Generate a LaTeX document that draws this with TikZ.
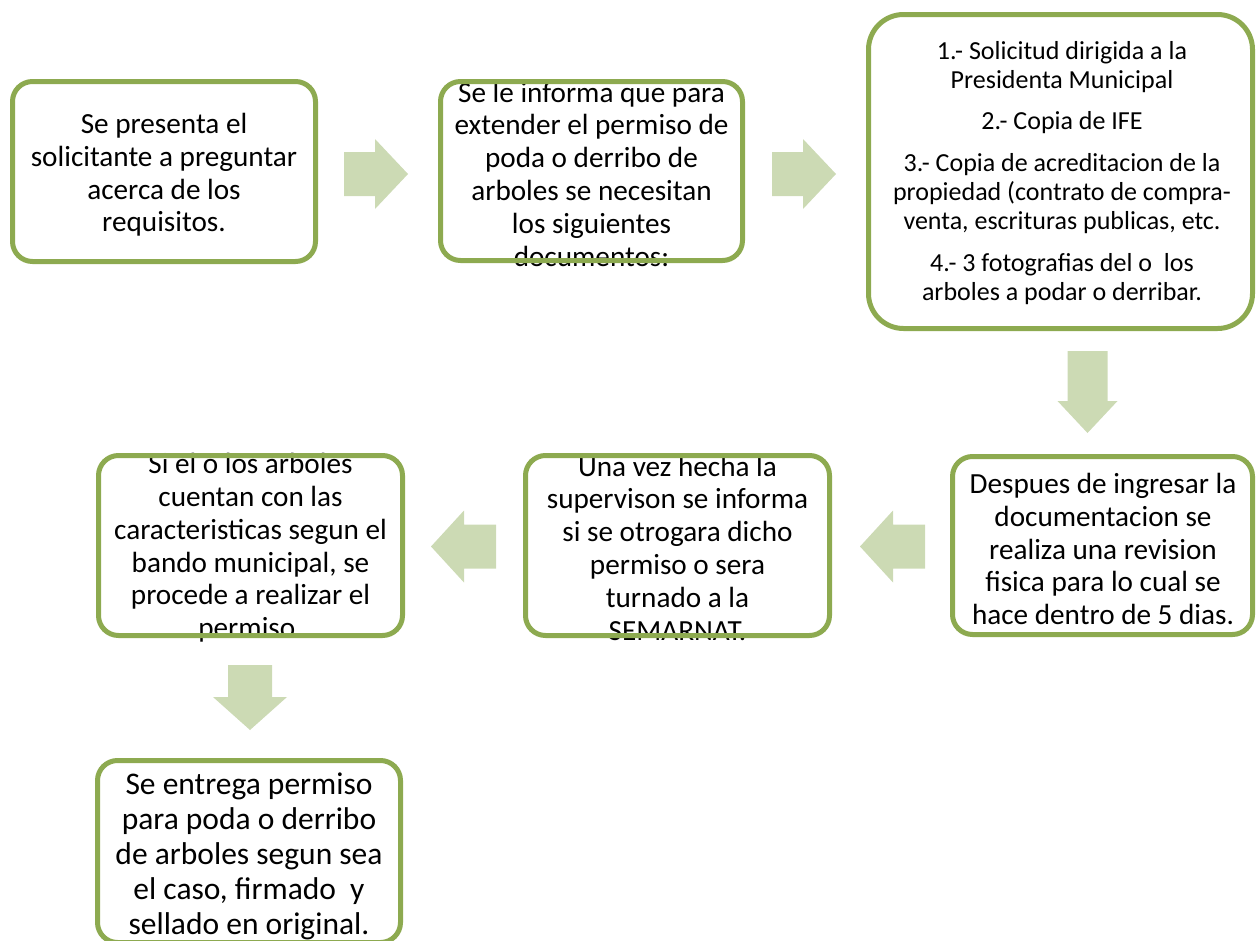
\documentclass[tikz,border=0pt]{standalone}
\usepackage{fontspec}
\setmainfont{Carlito}
\definecolor{bord}{RGB}{141,170,80}
\definecolor{arr}{RGB}{204,218,180}
\begin{document}
\begin{tikzpicture}[x=1pt,y=-1pt,
  box/.style={draw=bord, line width=5pt, rounded corners=20pt, inner sep=0pt},
  bigbox/.style={box, rounded corners=35pt},
  txt/.style={align=center, font=\fontsize{29.2}{32.8}\selectfont, inner sep=0pt},
  bigtxt/.style={align=center, font=\fontsize{31.5}{35}\selectfont, inner sep=0pt},
  smalltxt/.style={align=center, font=\fontsize{26}{29.3}\selectfont, inner sep=0pt},
  rarr/.pic={\fill[arr] (0,-22) -- (31,-22) -- (31,-35) -- (64,0) -- (31,35) -- (31,22) -- (0,22) -- cycle;},
  larr/.pic={\fill[arr] (0,-22) -- (-32,-22) -- (-32,-36) -- (-65,0) -- (-32,36) -- (-32,22) -- (0,22) -- cycle;},
  darrA/.pic={\fill[arr] (-20,0) -- (-20,50) -- (-30,50) -- (0,82) -- (30,50) -- (20,50) -- (20,0) -- cycle;},
  darrB/.pic={\fill[arr] (-22,0) -- (-22,32) -- (-37,32) -- (0,65) -- (37,32) -- (22,32) -- (22,0) -- cycle;}
]
\useasboundingbox (0,0) rectangle (1256,940);

% texts
\node[txt] (t1) at (164,175) {Se presenta el\\solicitante a preguntar\\acerca de los\\requisitos.};
\node[txt] (t2) at (591.5,174) {Se le informa que para\\extender el permiso de\\poda o derribo de\\arboles se necesitan\\los siguientes\\documentos:};
\node[smalltxt] (t3) at (1062,173) {1.- Solicitud dirigida a la\\Presidenta Municipal\\[12pt]2.- Copia de IFE\\[12pt]3.- Copia de acreditacion de la\\propiedad (contrato de compra-\\venta, escrituras publicas, etc.\\[12pt]4.- 3 fotografias del o\ \ los\\arboles a podar o derribar.};
\node[txt] (t4) at (1103,549) {Despues de ingresar la\\documentacion se\\realiza una revision\\fisica para lo cual se\\hace dentro de 5 dias.};
\node[txt] (t5) at (677.5,548) {Una vez hecha la\\supervison se informa\\si se otrogara dicho\\permiso o sera\\turnado a la\\SEMARNAT.};
\node[txt] (t6) at (250.5,548) {Si el o los arboles\\cuentan con las\\caracteristicas segun el\\bando municipal, se\\procede a realizar el\\permiso.};
\node[bigtxt] (t7) at (249,856) {Se entrega permiso\\para poda o derribo\\de arboles segun sea\\el caso, firmado\ \ y\\sellado en original.};

% boxes
\node[box, minimum width=303pt, minimum height=180pt] (b1) at (164,171.5) {};
\node[box, minimum width=302pt, minimum height=179pt] (b2) at (591.5,171) {};
\node[bigbox, minimum width=384pt, minimum height=314pt] (b3) at (1060.5,171.5) {};
\node[box, minimum width=300pt, minimum height=178pt] (b4) at (1102.5,545.5) {};
\node[box, minimum width=304pt, minimum height=180pt] (b5) at (677.5,545.5) {};
\node[box, minimum width=304pt, minimum height=180pt] (b6) at (250.5,545.5) {};
\node[box, minimum width=303pt, minimum height=182pt] (b7) at (249,851.5) {};

% block arrows
\pic at (344,174) {rarr};
\pic at (772,174) {rarr};
\pic at (1087.5,351) {darrA};
\pic at (925,546.5) {larr};
\pic at (496,546.5) {larr};
\pic at (250,665) {darrB};
\end{tikzpicture}
\end{document}
